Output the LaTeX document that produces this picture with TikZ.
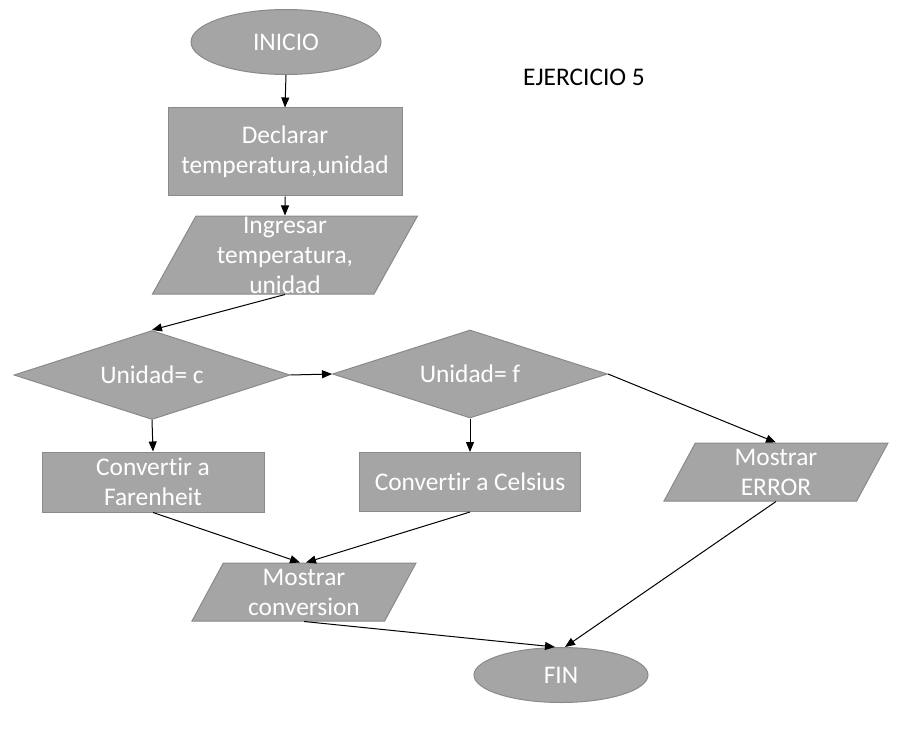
\documentclass[tikz,border=0pt]{standalone}
\usepackage{fontspec}
\setmainfont[Ligatures=NoCommon]{Carlito}
\usetikzlibrary{shapes.geometric,arrows.meta}
\definecolor{boxgray}{HTML}{A5A5A5}
\definecolor{edgegray}{HTML}{8A8A8A}
\begin{document}
\begin{tikzpicture}[x=0.5pt, y=-0.5pt,
  every node/.style={font=\fontsize{12.7}{15}\selectfont, align=center},
  base/.style={draw=edgegray, fill=boxgray, text=white, inner sep=0pt, line width=0.5pt},
  term/.style={base, ellipse},
  proc/.style={base, rectangle},
  dec/.style={base, diamond, aspect=3},
  io/.style={base, trapezium, trapezium left angle=56, trapezium right angle=124, trapezium stretches body},
  flecha/.style={-{Triangle[length=5pt,width=4pt]}, line width=0.5pt}]
\useasboundingbox (0,0) rectangle (900,738);
     \node[term, minimum width=95pt, minimum height=32.5pt] (inicio) at (286,42) {INICIO};
     \node (titulo) at (584,77) {EJERCICIO 5};
     \node[proc, minimum width=117pt, minimum height=44pt] (decl) at (285,152) {Declarar\\temperatura,unidad};
     \node[io, minimum width=132.5pt, minimum height=39pt, inner ysep=-3pt] (ingr) at (285,255) {Ingresar\\temperatura,\\unidad};
     \node[dec, minimum width=138pt, minimum height=44.5pt] (unc) at (152,375) {Unidad= c};
     \node[dec, minimum width=137.5pt, minimum height=44pt] (unf) at (470,374) {Unidad= f};
     \node[proc, minimum width=111pt, minimum height=30pt] (far) at (153,482) {Convertir a\\Farenheit};
     \node[proc, minimum width=110.5pt, minimum height=29.5pt] (cel) at (470,482) {Convertir a Celsius};
     \node[io, minimum width=112pt, minimum height=29pt] (err) at (776,472) {Mostrar\\ERROR};
     \node[io, minimum width=112pt, minimum height=29pt] (conv) at (304,592) {Mostrar\\conversion};
     \node[term, minimum width=87pt, minimum height=27.5pt] (fin) at (561,675) {FIN};
        \draw[flecha] (inicio.south) -- (decl.north); %inicio-declarar
        \draw[flecha] (decl.south) -- (ingr.north); %declarar-ingresar
        \draw[flecha] (ingr.south) -- (unc.north); %ingresar-c
        \draw[flecha] (unc.east) -- (unf.west); %c-f
        \draw[flecha] (unc.south) -- (far.north); %c-farenheit
        \draw[flecha] (unf.south) -- (cel.north); %f-celsius
        \draw[flecha] (unf.east) -- (err.north); %f-error
        \draw[flecha] (far.south) -- ([xshift=-2pt]conv.north); %farenheit-conversion
        \draw[flecha] (cel.south) -- ([xshift=1pt]conv.north); %celsius-conversion
        \draw[flecha] (conv.south) -- ([xshift=-3pt]fin.north); %conversion-fin
        \draw[flecha] (err.south) -- ([xshift=2pt]fin.north); %error-fin
\end{tikzpicture}
\end{document}
